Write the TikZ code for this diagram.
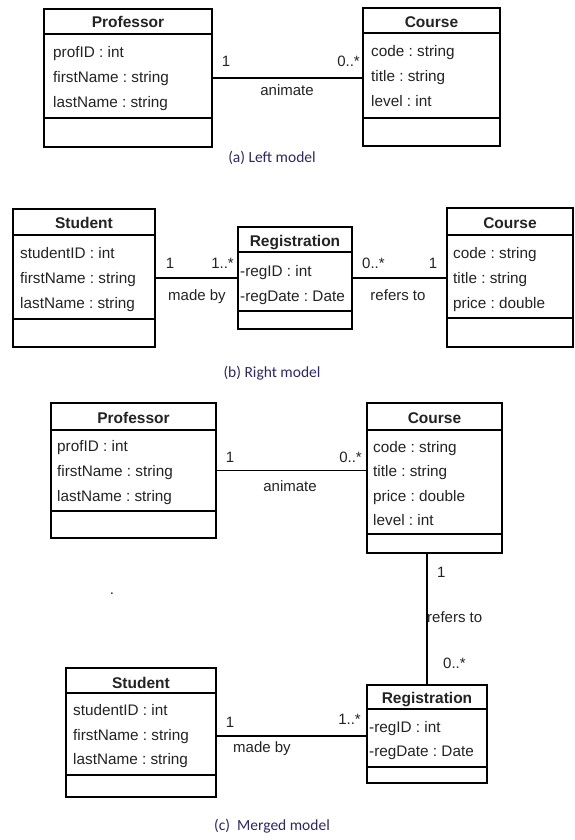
\documentclass[tikz,border=0pt]{standalone}
\usepackage{fontspec}
\setmainfont{Liberation Sans}
\newfontfamily\capfont{Carlito}
\frenchspacing
\definecolor{txt}{RGB}{35,35,35}
\definecolor{capc}{RGB}{45,40,95}
\newcommand\umlbox[7]{% name, left, top, right, bottom, sep1, sep2
  \node[classbox, minimum width={#4-#2}, minimum height={#5-#3}] (#1) at ({(#2+#4)/2},{(#3+#5)/2}) {};
  \draw[umlline] (#2,#6) -- (#4,#6);
  \draw[umlline] (#2,#7) -- (#4,#7);}
\begin{document}
\begin{tikzpicture}[x=1pt,y=-1pt,
  classbox/.style={draw=black, line width=1.3pt, inner sep=0pt, fill=none},
  umlline/.style={draw=black, line width=1.3pt},
  assoc/.style={draw=black, line width=1.2pt},
  ctitle/.style={font=\fontsize{15.5}{18}\selectfont\bfseries, text=txt, inner sep=0pt, anchor=base},
  attr/.style={font=\fontsize{15.3}{18}\selectfont, text=txt, inner sep=0pt, anchor=base west},
  lbl/.style={font=\fontsize{15}{18}\selectfont, text=txt, inner sep=0pt, anchor=base},
  caption/.style={font=\capfont\fontsize{15.5}{18}\selectfont, text=capc, inner sep=0pt, anchor=base}]
\useasboundingbox (0,0) rectangle (575,840);
\fill[white] (0,0) rectangle (575,840);

% ---------------- (a) Left model ----------------
\umlbox{pa}{44}{9}{212}{147}{34}{118}
\node[ctitle] (pa-t) at (128,28) {Professor};
\node[attr] (pa-1) at (53,58) {profID : int};
\node[attr] (pa-2) at (53,83) {firstName : string};
\node[attr] (pa-3) at (53,108) {lastName : string};

\umlbox{ca}{363}{8}{500}{146}{33}{118}
\node[ctitle] (ca-t) at (431.5,28) {Course};
\node[attr] (ca-1) at (371,57) {code : string};
\node[attr] (ca-2) at (371,82) {title : string};
\node[attr] (ca-3) at (371,107) {level : int};

\draw[assoc] (pa.east) -- (pa.east -| ca.west);
\node[lbl] (a-m1) at (226,67) {1};
\node[lbl, anchor=base east] (a-m2) at (360,67) {0..*};
\node[lbl] (a-n) at (287,96) {animate};
\node[caption] (a-cap) at (272,162) {(a) Left model};

% ---------------- (b) Right model ----------------
\umlbox{sb}{13}{209}{155}{347}{235}{319}
\node[ctitle] (sb-t) at (84,228) {Student};
\node[attr] (sb-1) at (20,258) {studentID : int};
\node[attr] (sb-2) at (20,283) {firstName : string};
\node[attr] (sb-3) at (20,308) {lastName : string};

\umlbox{rb}{238}{227}{352}{329}{252}{311}
\node[ctitle] (rb-t) at (295,246) {Registration};
\node[attr] (rb-1) at (240,276) {-regID : int};
\node[attr] (rb-2) at (240,301) {-regDate : Date};

\umlbox{cb}{447}{208}{573}{347}{235}{318}
\node[ctitle] (cb-t) at (510,228) {Course};
\node[attr] (cb-1) at (453,258) {code : string};
\node[attr] (cb-2) at (453,283) {title : string};
\node[attr] (cb-3) at (453,308) {price : double};

\draw[assoc] (sb.east) -- (rb.west);
\draw[assoc] (rb.east) -- (rb.east -| cb.west);
\node[lbl] (b-m1) at (170,268) {1};
\node[lbl, anchor=base east] (b-m2) at (234,268) {1..*};
\node[lbl] (b-n1) at (197,300) {made by};
\node[lbl, anchor=base west] (b-m3) at (362,268) {0..*};
\node[lbl] (b-m4) at (433,268) {1};
\node[lbl] (b-n2) at (398,300) {refers to};
\node[caption] (b-cap) at (272,377) {(b) Right model};

% ---------------- (c) Merged model ----------------
\umlbox{pc}{51}{403}{216}{538}{430}{511}
\node[ctitle] (pc-t) at (133.5,423) {Professor};
\node[attr] (pc-1) at (57,451) {profID : int};
\node[attr] (pc-2) at (57,476) {firstName : string};
\node[attr] (pc-3) at (57,501) {lastName : string};

\umlbox{cc}{367}{403}{502}{553}{430}{534}
\node[ctitle] (cc-t) at (434.5,423) {Course};
\node[attr] (cc-1) at (373,452) {code : string};
\node[attr] (cc-2) at (373,476.5) {title : string};
\node[attr] (cc-3) at (373,501) {price : double};
\node[attr] (cc-4) at (373,525.5) {level : int};

\umlbox{sc}{66}{668}{216}{797}{693}{775}
\node[ctitle] (sc-t) at (141,688) {Student};
\node[attr] (sc-1) at (73,715) {studentID : int};
\node[attr] (sc-2) at (73,740) {firstName : string};
\node[attr] (sc-3) at (73,764) {lastName : string};

\umlbox{rc}{367}{685}{487}{783}{709}{767}
\node[ctitle] (rc-t) at (427,703) {Registration};
\node[attr] (rc-1) at (369,732) {-regID : int};
\node[attr] (rc-2) at (369,756) {-regDate : Date};

\draw[assoc] (pc.east) -- (pc.east -| cc.west);
\node[lbl] (c-m1) at (230,462) {1};
\node[lbl, anchor=base east] (c-m2) at (362,462) {0..*};
\node[lbl] (c-n1) at (290,491) {animate};

\draw[assoc] (rc.north) -- (rc.north |- cc.south);
\node[lbl, anchor=base west] (c-m3) at (437,577) {1};
\node[lbl, anchor=base west] (c-n2) at (427,622) {refers to};
\node[lbl, anchor=base west] (c-m4) at (443,668) {0..*};

\coordinate (scr) at ([yshift=-3.5pt]sc.east);
\draw[assoc] (scr) -- (scr -| rc.west);
\node[lbl] (c-m5) at (230,727) {1};
\node[lbl, anchor=base east] (c-m6) at (361,724) {1..*};
\node[lbl] (c-n3) at (262,752) {made by};

\node[lbl] (dot) at (112,594) {.};
\node[caption] (c-cap) at (272,830) {(c)\ \ Merged model};
\end{tikzpicture}
\end{document}
